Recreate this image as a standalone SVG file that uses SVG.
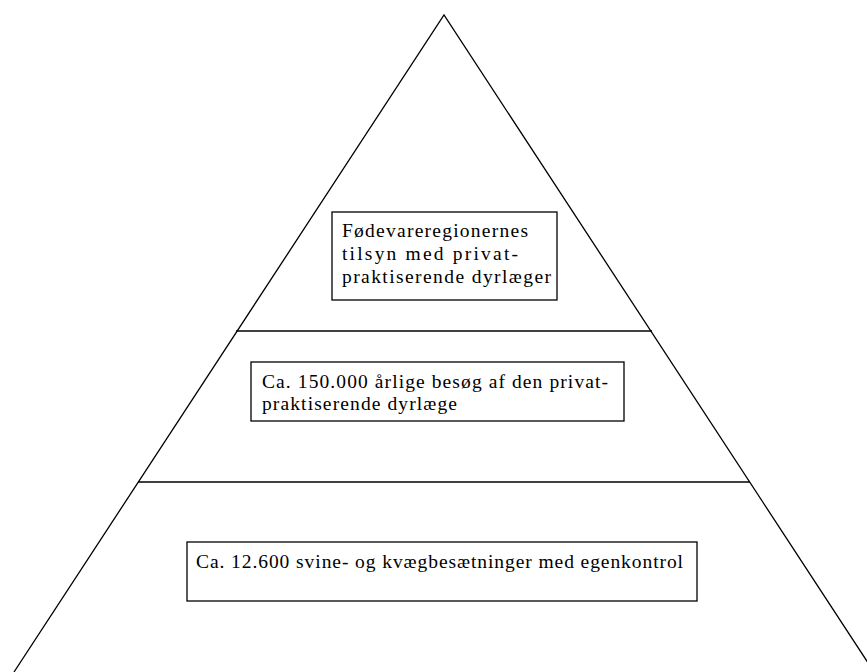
<svg xmlns="http://www.w3.org/2000/svg" width="867" height="672" viewBox="0 0 867 672">
<style>
.ln{fill:none;stroke:#000;stroke-width:1.3}
.box{fill:#fff;stroke:#000;stroke-width:1.3}
.t{font-family:"Liberation Serif","Times New Roman",serif;font-size:19.5px;fill:#000}
</style>
<rect width="867" height="672" fill="#fff"/>
<g id="connectors">
<polyline class="ln" points="14,672 444,15 874,672"/>
<line class="ln" x1="236" y1="331" x2="652" y2="331"/>
<line class="ln" x1="138" y1="482" x2="750" y2="482"/>
</g>
<g id="node-top">
<rect class="box" x="332" y="212" width="225" height="88"/>
<text class="t" x="342" y="237" textLength="186" lengthAdjust="spacing">Fødevareregionernes</text>
<text class="t" x="342" y="260" textLength="176" lengthAdjust="spacing">tilsyn med privat-</text>
<text class="t" x="342" y="283" textLength="209" lengthAdjust="spacing">praktiserende dyrlæger</text>
</g>
<g id="node-middle">
<rect class="box" x="251" y="362" width="373" height="59"/>
<text class="t" x="262" y="388" textLength="346" lengthAdjust="spacing">Ca. 150.000 årlige besøg af den privat-</text>
<text class="t" x="262" y="410" textLength="195" lengthAdjust="spacing">praktiserende dyrlæge</text>
</g>
<g id="node-bottom">
<rect class="box" x="187" y="542" width="510" height="59"/>
<text class="t" x="196" y="568" textLength="487" lengthAdjust="spacing">Ca. 12.600 svine- og kvægbesætninger med egenkontrol</text>
</g>
</svg>
